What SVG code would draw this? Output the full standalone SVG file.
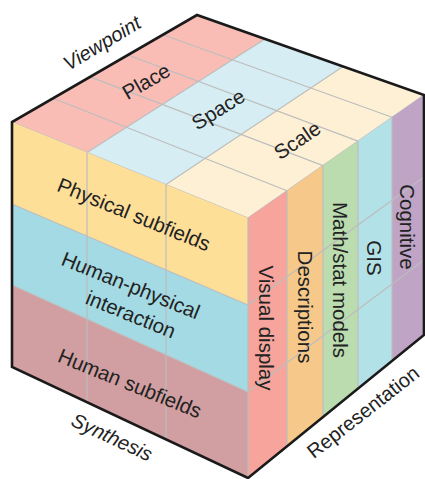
<svg xmlns="http://www.w3.org/2000/svg" width="425" height="479" viewBox="0 0 425 479">
<style>
.grid{stroke:#bdbdbd;stroke-width:1.2;fill:none}
.lbl{font-family:"Liberation Sans",Arial,sans-serif;font-size:20.5px;fill:#222;text-anchor:middle;dominant-baseline:central}
.axis{font-family:"Liberation Sans",Arial,sans-serif;font-size:20px;fill:#222;text-anchor:middle;dominant-baseline:central}
.it{font-style:italic}
</style>
<rect width="425" height="479" fill="#ffffff"/>
<g id="top-face">
  <polygon id="place" points="12,122 197,15 265,39 87,152.5" fill="#f9bdb6"/>
  <polygon id="space" points="87,152.5 265,39 343,66.5 166,184.6" fill="#d6eef3"/>
  <polygon id="scale" points="166,184.6 343,66.5 424,95 248,218" fill="#fef0d5"/>
  <g class="grid">
    <line x1="87" y1="152.5" x2="265" y2="39"/>
    <line x1="166" y1="184.6" x2="343" y2="66.5"/>
    <line x1="53" y1="98.3" x2="287" y2="190.7"/>
    <line x1="90" y1="76.9" x2="323" y2="165.6"/>
    <line x1="128" y1="55" x2="358" y2="141.1"/>
    <line x1="163" y1="34.7" x2="392" y2="117.3"/>
    <line x1="12" y1="122" x2="248" y2="218"/>
    <line x1="248" y1="218" x2="424" y2="95"/>
  </g>
  <text class="lbl" transform="translate(146,81) rotate(-30)">Place</text>
  <text class="lbl" transform="translate(218,109) rotate(-32)">Space</text>
  <text class="lbl" transform="translate(297,140) rotate(-34)">Scale</text>
</g>
<g id="left-face">
  <polygon id="physical" points="12,122 248,218 248,305 12,204" fill="#fedf98"/>
  <polygon id="human-physical" points="12,204 248,305 248,392 12,285" fill="#a3dae3"/>
  <polygon id="human" points="12,285 248,392 248,478 12,367" fill="#d19ea1"/>
  <g class="grid">
    <line x1="87" y1="152.5" x2="87" y2="402.3"/>
    <line x1="166" y1="184.6" x2="166" y2="439.4"/>
    <line x1="12" y1="204" x2="248" y2="305"/>
    <line x1="12" y1="285" x2="248" y2="392"/>
  </g>
  <text class="lbl" transform="translate(134,214) rotate(22)">Physical subfields</text>
  <text class="lbl" transform="translate(131,285) rotate(22)">Human-physical</text>
  <text class="lbl" transform="translate(131,314) rotate(22)">interaction</text>
  <text class="lbl" transform="translate(130,383) rotate(22)">Human subfields</text>
</g>
<g id="right-face">
  <polygon id="visual" points="248,218 287,190.7 287,446.3 248,478" fill="#f7a59c"/>
  <polygon id="descriptions" points="287,190.7 323,165.6 323,417.1 287,446.3" fill="#f6c98a"/>
  <polygon id="mathstat" points="323,165.6 358,141.1 358,388.6 323,417.1" fill="#badcaf"/>
  <polygon id="gis" points="358,141.1 392,117.3 392,361 358,388.6" fill="#b3e1e8"/>
  <polygon id="cognitive" points="392,117.3 424,95 424,335 392,361" fill="#bfa4c5"/>
  <g class="grid">
    <line x1="248" y1="218" x2="248" y2="478"/>
    <line x1="287" y1="190.7" x2="287" y2="446.3"/>
    <line x1="323" y1="165.6" x2="323" y2="417.1"/>
    <line x1="358" y1="141.1" x2="358" y2="388.6"/>
    <line x1="392" y1="117.3" x2="392" y2="361"/>
    <line x1="248" y1="305" x2="424" y2="177"/>
    <line x1="248" y1="392" x2="424" y2="260"/>
  </g>
  <text class="lbl" transform="translate(266,328) rotate(90)">Visual display</text>
  <text class="lbl" transform="translate(305,307) rotate(90)">Descriptions</text>
  <text class="lbl" transform="translate(340,280) rotate(90)">Math/stat models</text>
  <text class="lbl" transform="translate(374,258) rotate(90)">GIS</text>
  <text class="lbl" transform="translate(407,227) rotate(90)">Cognitive</text>
</g>
<g id="outline">
  <path d="M12,367 L12,122 L197,15 L424,95 L424,335 L248,478 Z" fill="none" stroke="#1a1a1a" stroke-width="2.6" stroke-linejoin="miter"/>
</g>
<g id="axis-labels">
  <text class="axis it" transform="translate(102,43) rotate(-31)">Viewpoint</text>
  <text class="axis it" transform="translate(112,437) rotate(25)">Synthesis</text>
  <text class="axis" transform="translate(363,412) rotate(-38)">Representation</text>
</g>
</svg>
